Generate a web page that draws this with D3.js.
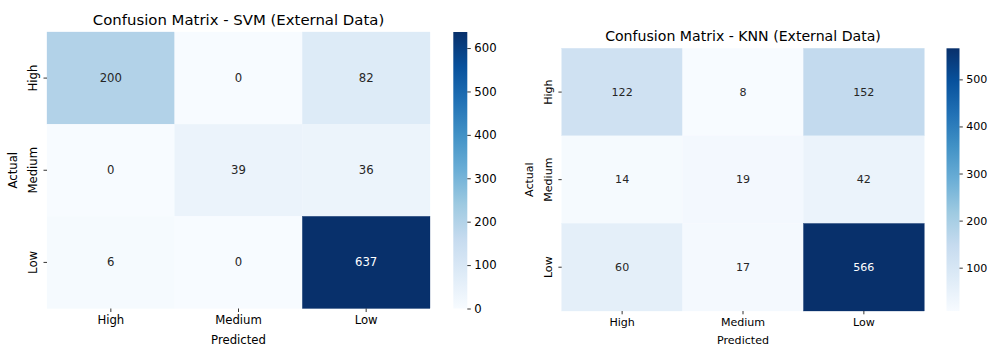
<!DOCTYPE html>
<html>
<head>
<meta charset="utf-8">
<script src="https://cdn.jsdelivr.net/npm/d3@7"></script>
<style>
  html, body { margin: 0; padding: 0; background: #fff; }
  svg text { font-family: "DejaVu Sans", sans-serif; fill: #000; }
</style>
</head>
<body>
<svg id="chart" width="990" height="347"></svg>
<script>
// Class labels shared by both matrices
const classes = ["High", "Medium", "Low"];

// Rows = actual class, columns = predicted class
const svmMatrix = [
  [200, 0, 82],
  [0, 39, 36],
  [6, 0, 637]
];
const knnMatrix = [
  [122, 8, 152],
  [14, 19, 42],
  [60, 17, 566]
];

const svmTitle = "Confusion Matrix - SVM (External Data)";
const knnTitle = "Confusion Matrix - KNN (External Data)";
const svmColorbarTicks = [0, 100, 200, 300, 400, 500, 600];
const knnColorbarTicks = [100, 200, 300, 400, 500];

// Piecewise-linear "Blues" ramp
const bluesStops = ["#f7fbff", "#deebf7", "#c6dbef", "#9ecae1", "#6baed6",
                    "#4292c6", "#2171b5", "#08519c", "#08306b"];
const blues = d3.scaleLinear()
  .domain(d3.range(bluesStops.length).map(i => i / (bluesStops.length - 1)))
  .range(bluesStops)
  .interpolate(d3.interpolateRgb)
  .clamp(true);

const svg = d3.select("#chart");

function luminance(c) {
  const rgb = d3.rgb(c);
  const lin = v => { v /= 255; return v <= 0.03928 ? v / 12.92 : Math.pow((v + 0.055) / 1.055, 2.4); };
  return 0.2126 * lin(rgb.r) + 0.7152 * lin(rgb.g) + 0.0722 * lin(rgb.b);
}

function drawMatrix(cfg) {
  const { matrix, title, ticks, box, cbar, id, k } = cfg;
  const FS = 11.7 * k;
  const flat = matrix.flat();
  const vmin = d3.min(flat), vmax = d3.max(flat);
  const norm = d3.scaleLinear().domain([vmin, vmax]).range([0, 1]);
  const color = v => blues(norm(v));

  const g = svg.append("g");

  const x = d3.scaleBand().domain(classes).range([box.x0, box.x1]);
  const y = d3.scaleBand().domain(classes).range([box.y0, box.y1]);

  // cells
  const cells = [];
  matrix.forEach((row, i) => row.forEach((v, j) => cells.push({ r: classes[i], c: classes[j], v })));

  g.selectAll("rect.cell").data(cells).join("rect")
    .attr("class", "cell")
    .attr("x", d => x(d.c))
    .attr("y", d => y(d.r))
    .attr("width", x.bandwidth())
    .attr("height", y.bandwidth())
    .attr("fill", d => color(d.v))
    .attr("stroke", d => color(d.v))
    .attr("stroke-width", 0.3);

  g.selectAll("text.annot").data(cells).join("text")
    .attr("class", "annot")
    .attr("x", d => x(d.c) + x.bandwidth() / 2)
    .attr("y", d => y(d.r) + y.bandwidth() / 2)
    .attr("text-anchor", "middle")
    .attr("dominant-baseline", "central")
    .style("font-size", FS + "px")
    .style("fill", d => luminance(color(d.v)) > 0.408 ? "#262626" : "#ffffff")
    .text(d => d.v);

  // x axis
  const xAxis = g.append("g")
    .attr("transform", `translate(0,${box.y1})`)
    .call(d3.axisBottom(x).tickSize(3.5 * k).tickPadding(4 * k));
  xAxis.select(".domain").remove();
  xAxis.selectAll("text").style("font-size", FS + "px").style("fill", "#000");
  xAxis.selectAll("line").attr("stroke", "#000").attr("stroke-width", 0.8);

  // y axis, labels rotated vertically
  const yAxis = g.append("g")
    .attr("transform", `translate(${box.x0},0)`)
    .call(d3.axisLeft(y).tickSize(3.5 * k).tickPadding(4 * k));
  yAxis.select(".domain").remove();
  yAxis.selectAll("line").attr("stroke", "#000").attr("stroke-width", 0.8);
  yAxis.selectAll("text")
    .attr("x", null).attr("dy", null)
    .attr("text-anchor", "middle")
    .attr("transform", `translate(${-10.5 * k},0) rotate(-90)`)
    .style("font-size", FS + "px").style("fill", "#000");

  // axis titles
  g.append("text")
    .attr("x", (box.x0 + box.x1) / 2)
    .attr("y", Math.min(box.y1 + 35 * k, 345))
    .attr("text-anchor", "middle")
    .style("font-size", FS + "px")
    .text("Predicted");
  g.append("text")
    .attr("transform", `translate(${box.x0 - 34.3 * k},${(box.y0 + box.y1) / 2}) rotate(-90)`)
    .attr("text-anchor", "middle")
    .attr("dominant-baseline", "central")
    .style("font-size", FS + "px")
    .text("Actual");

  // title
  g.append("text")
    .attr("x", (box.x0 + box.x1) / 2)
    .attr("y", box.y0 - 7.5 * k)
    .attr("text-anchor", "middle")
    .style("font-size", (14.9 * k) + "px")
    .text(title);

  // colorbar
  const defs = svg.append("defs");
  const grad = defs.append("linearGradient")
    .attr("id", id).attr("x1", 0).attr("y1", 1).attr("x2", 0).attr("y2", 0);
  bluesStops.forEach((c, i) => grad.append("stop")
    .attr("offset", i / (bluesStops.length - 1)).attr("stop-color", c));

  g.append("rect")
    .attr("x", cbar.x0).attr("y", box.y0)
    .attr("width", cbar.w).attr("height", box.y1 - box.y0)
    .attr("fill", `url(#${id})`);

  const cy = d3.scaleLinear().domain([vmin, vmax]).range([box.y1, box.y0]);
  const cAxis = g.append("g")
    .attr("transform", `translate(${cbar.x0 + cbar.w},0)`)
    .call(d3.axisRight(cy).tickValues(ticks).tickSize(3.5 * k).tickPadding(3.5 * k));
  cAxis.select(".domain").remove();
  cAxis.selectAll("line").attr("stroke", "#000").attr("stroke-width", 0.8);
  cAxis.selectAll("text").style("font-size", FS + "px").style("fill", "#000");
}

drawMatrix({
  matrix: svmMatrix, title: svmTitle, ticks: svmColorbarTicks, id: "gradSvm", k: 1,
  box: { x0: 47, x1: 430, y0: 32, y1: 308.5 },
  cbar: { x0: 453.3, w: 14 }
});

drawMatrix({
  matrix: knnMatrix, title: knnTitle, ticks: knnColorbarTicks, id: "gradKnn", k: 0.947,
  box: { x0: 561.7, x1: 924.3, y0: 48.3, y1: 311 },
  cbar: { x0: 946.5, w: 13 }
});
</script>
</body>
</html>
